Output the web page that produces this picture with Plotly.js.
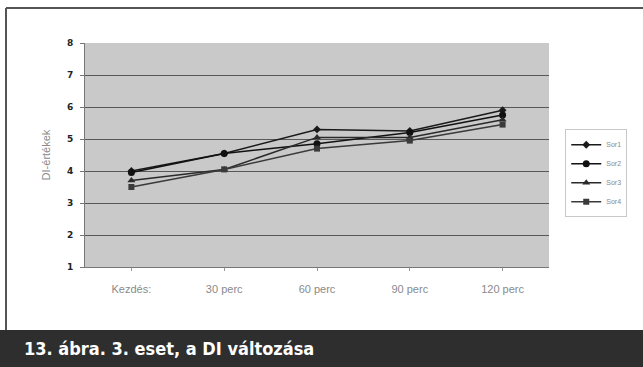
<!DOCTYPE html>
<html>
<head>
<meta charset="utf-8">
<script src="https://cdn.plot.ly/plotly-3.0.1.min.js"></script>
<style>html,body{margin:0;padding:0;background:#fff;}#chart{width:643px;height:367px;}</style>
</head>
<body>
<div id="chart"></div>
<script>
const categories = ["Kezdés:", "30 perc", "60 perc", "90 perc", "120 perc"];
const seriesNames = ["Sor1", "Sor2", "Sor3", "Sor4"];
const sor1 = [4.0, 4.55, 5.3, 5.25, 5.9];
const sor2 = [3.95, 4.55, 4.85, 5.2, 5.75];
const sor3 = [3.7, 4.05, 5.05, 5.05, 5.6];
const sor4 = [3.5, 4.05, 4.7, 4.95, 5.45];
const yTicks = [1, 2, 3, 4, 5, 6, 7, 8];
const caption = "13. ábra. 3. eset, a DI változása";
const yTitle = "DI-értékek";

const allSeries = [sor1, sor2, sor3, sor4];
const symbols = ["diamond", "circle", "triangle-up", "square"];
const sizes = [6, 7, 7, 6];
const colors = ["#1a1a1a", "#111111", "#2a2a2a", "#3a3a3a"];

const traces = allSeries.map((vals, i) => ({
  type: "scatter",
  mode: "lines+markers",
  name: seriesNames[i],
  x: categories,
  y: vals,
  line: {color: colors[i], width: 1.5},
  marker: {symbol: symbols[i], size: sizes[i], color: colors[i]}
}));

const layout = {
  width: 643, height: 367,
  margin: {l: 85, r: 94, t: 43, b: 100},
  paper_bgcolor: "#ffffff",
  plot_bgcolor: "#c9c9c9",
  showlegend: true,
  legend: {
    x: 1.035, y: 0.615, xanchor: "left", yanchor: "top",
    bgcolor: "#ffffff", bordercolor: "#c8c8c8", borderwidth: 1,
    font: {family: "Liberation Sans, Arial", size: 7, color: "#888"},
    tracegroupgap: 0, itemwidth: 30
  },
  xaxis: {
    type: "category",
    range: [-0.5, 4.5],
    showgrid: false,
    showline: true, linecolor: "#777", linewidth: 1,
    ticks: "outside", ticklen: 3, tickcolor: "#999",
    ticklabelstandoff: 9,
    tickfont: {family: "Liberation Sans, Arial", size: 11, color: "#8a8a8a"},
    zeroline: false
  },
  yaxis: {
    range: [1, 8],
    tickvals: yTicks,
    showgrid: true, gridcolor: "#585858", gridwidth: 1,
    showline: true, linecolor: "#777", linewidth: 1,
    ticks: "outside", ticklen: 4, tickcolor: "#777",
    ticklabelstandoff: 5,
    tickfont: {family: "DejaVu Sans, Arial", size: 9, color: "#222", weight: "bold"},
    zeroline: false,
    title: {text: yTitle, font: {family: "Liberation Sans, Arial", size: 11, color: "#8a8a8a"}, standoff: 14}
  },
  shapes: [
    {type: "rect", xref: "paper", yref: "paper", x0: -85/464, x1: 558/464, y0: -100/224, y1: -63/224,
     fillcolor: "#2e2e2e", line: {width: 0}, layer: "above"},
    {type: "line", xref: "paper", yref: "paper", x0: -79/464, x1: 558/464, y0: 259/224, y1: 259/224,
     line: {color: "#555", width: 2}},
    {type: "line", xref: "paper", yref: "paper", x0: -79/464, x1: -79/464, y0: -63/224, y1: 259/224,
     line: {color: "#555", width: 2}}
  ],
  annotations: [
    {text: "<b>" + caption + "</b>", xref: "paper", yref: "paper", x: -63/464, y: -81/224,
     xanchor: "left", yanchor: "middle", showarrow: false,
     font: {family: "DejaVu Sans Condensed, DejaVu Sans", size: 18, color: "#ffffff"}}
  ]
};

Plotly.newPlot("chart", traces, layout, {displayModeBar: false, staticPlot: true});
</script>
</body>
</html>
